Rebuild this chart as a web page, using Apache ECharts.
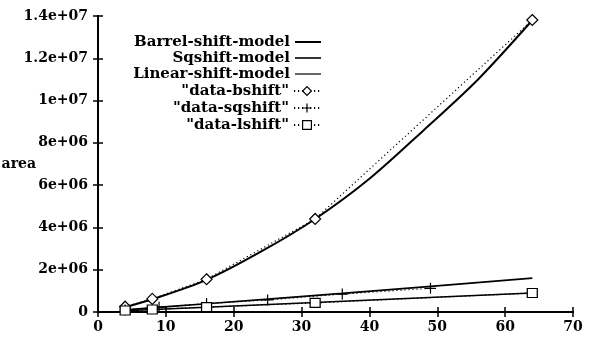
<!DOCTYPE html>
<html>
<head>
<meta charset="utf-8">
<script src="https://cdn.jsdelivr.net/npm/echarts@6/dist/echarts.min.js"></script>
<style>
  html, body { margin: 0; padding: 0; background: #fff; }
  #chart { width: 596px; height: 349px; }
</style>
</head>
<body>
<div id="chart"></div>
<script>
// Tick values
const xTicks = [0, 10, 20, 30, 40, 50, 60, 70];
const yTicks = [0, 2e6, 4e6, 6e6, 8e6, 1e7, 1.2e7, 1.4e7];

// Model curves (n, area)
const barrelModelN = [4, 8, 16, 24, 32, 40, 48, 56, 64];
const barrelModelArea = [2.3e5, 6.0e5, 1.52e6, 2.85e6, 4.4e6, 6.3e6, 8.6e6, 1.1e7, 1.38e7];
const sqshiftModelN = [4, 16, 36, 64];
const sqshiftModelArea = [1.0e5, 3.9e5, 8.8e5, 1.6e6];
const linearModelN = [4, 64];
const linearModelArea = [6e4, 9.0e5];

// Measured data (n, area)
const bshiftN = [4, 8, 16, 32, 64];
const bshiftArea = [2.5e5, 6.2e5, 1.55e6, 4.4e6, 1.381e7];
const sqshiftN = [4, 9, 16, 25, 36, 49];
const sqshiftArea = [1.0e5, 2.3e5, 4.0e5, 5.7e5, 8.5e5, 1.12e6];
const lshiftN = [4, 8, 16, 32, 64];
const lshiftArea = [7e4, 1.2e5, 2.3e5, 4.3e5, 9.0e5];

const names = [
  'Barrel-shift-model', 'Sqshift-model', 'Linear-shift-model',
  '"data-bshift"', '"data-sqshift"', '"data-lshift"'
];

const pairs = (xs, ys) => xs.map((x, i) => [x, ys[i]]);

// %g style exponent formatting, e.g. 1.2e+07
function gFormat(v) {
  if (v === 0) return '0';
  const e = Math.floor(Math.log10(v) + 1e-9);
  const m = +(v / Math.pow(10, e)).toFixed(4);
  return m + 'e+' + String(e).padStart(2, '0');
}

const FONT = 'DejaVu Serif';
const black = '#000';

const chart = echarts.init(document.getElementById('chart'), null, { renderer: 'canvas' });

const grid = { left: 98, right: 23, top: 16, bottom: 37, outerBoundsMode: 'none', containLabel: false };

const axisCommon = {
  axisLine: { show: true, lineStyle: { color: black, width: 2 } },
  axisTick: { show: true, inside: true, length: 5, lineStyle: { color: black, width: 1.5 } },
  splitLine: { show: false },
  minorTick: { show: false }
};

const labelStyle = { color: black, fontFamily: FONT, fontWeight: 'bold', fontSize: 14 };

const symbolStyle = { color: '#fff', borderColor: black, borderWidth: 1.2 };

const legendRows = [42, 58, 74, 91, 108, 125];
const legends = names.map((nm, i) => {
  const isModel = i < 3;
  return {
    data: [isModel ? { name: nm, icon: 'rect' } : { name: nm }],
    orient: 'horizontal',
    align: 'right',
    right: 275,
    top: legendRows[i] - 8,
    itemWidth: 26,
    itemHeight: isModel ? (i === 0 ? 2 : (i === 1 ? 1.6 : 1.2)) : 11,
    padding: 0,
    selectedMode: false,
    textStyle: { color: black, fontFamily: FONT, fontWeight: 'bold', fontSize: 15, lineHeight: 16 },
    itemStyle: isModel ? { color: black, borderWidth: 0 } : symbolStyle
  };
});

const dotted = { color: black, width: 1.2, type: [1.2, 2.8] };

const option = {
  animation: false,
  backgroundColor: '#fff',
  grid: grid,
  legend: legends,
  xAxis: [
    Object.assign({
      type: 'value', position: 'bottom', min: 0, max: 70, interval: 10,
      name: 'n', nameLocation: 'middle', nameGap: 35, nameMoveOverlap: false,
      nameTextStyle: { color: black, fontFamily: FONT, fontStyle: 'italic', fontSize: 14 },
      axisLabel: Object.assign({ margin: 8 }, labelStyle)
    }, axisCommon),
    Object.assign({
      type: 'value', position: 'top', min: 0, max: 70, interval: 10,
      axisLabel: { show: false }
    }, axisCommon)
  ],
  yAxis: [
    Object.assign({
      type: 'value', position: 'left', min: 0, max: 1.4e7, interval: 2e6,
      name: 'area', nameLocation: 'middle', nameRotate: 0, nameGap: 62, nameMoveOverlap: false,
      nameTextStyle: { color: black, fontFamily: FONT, fontWeight: 'bold', fontSize: 14 },
      axisLabel: Object.assign({ margin: 10, formatter: gFormat }, labelStyle)
    }, axisCommon),
    Object.assign({
      type: 'value', position: 'right', min: 0, max: 1.4e7, interval: 2e6,
      axisLabel: { show: false }
    }, axisCommon)
  ],
  series: [
    {
      name: names[0], type: 'line', data: pairs(barrelModelN, barrelModelArea),
      smooth: 0.3, symbol: 'none', lineStyle: { color: black, width: 2 },
      itemStyle: { color: black }, z: 3
    },
    {
      name: names[1], type: 'line', data: pairs(sqshiftModelN, sqshiftModelArea),
      smooth: 0.3, symbol: 'none', lineStyle: { color: black, width: 1.6 },
      itemStyle: { color: black }, z: 3
    },
    {
      name: names[2], type: 'line', data: pairs(linearModelN, linearModelArea),
      symbol: 'none', lineStyle: { color: black, width: 1.4 },
      itemStyle: { color: black }, z: 3
    },
    {
      name: names[3], type: 'line', data: pairs(bshiftN, bshiftArea),
      symbol: 'diamond', symbolSize: [11, 11], showSymbol: true,
      lineStyle: dotted, itemStyle: symbolStyle, z: 4
    },
    {
      name: names[4], type: 'line', data: pairs(sqshiftN, sqshiftArea),
      symbol: 'path://M0,5L10,5M5,0L5,10', symbolSize: [11, 11], showSymbol: true,
      lineStyle: dotted, itemStyle: symbolStyle, z: 4
    },
    {
      name: names[5], type: 'line', data: pairs(lshiftN, lshiftArea),
      symbol: 'rect', symbolSize: [10, 9], showSymbol: true,
      lineStyle: dotted, itemStyle: symbolStyle, z: 4
    }
  ]
};

chart.setOption(option);
</script>
</body>
</html>
